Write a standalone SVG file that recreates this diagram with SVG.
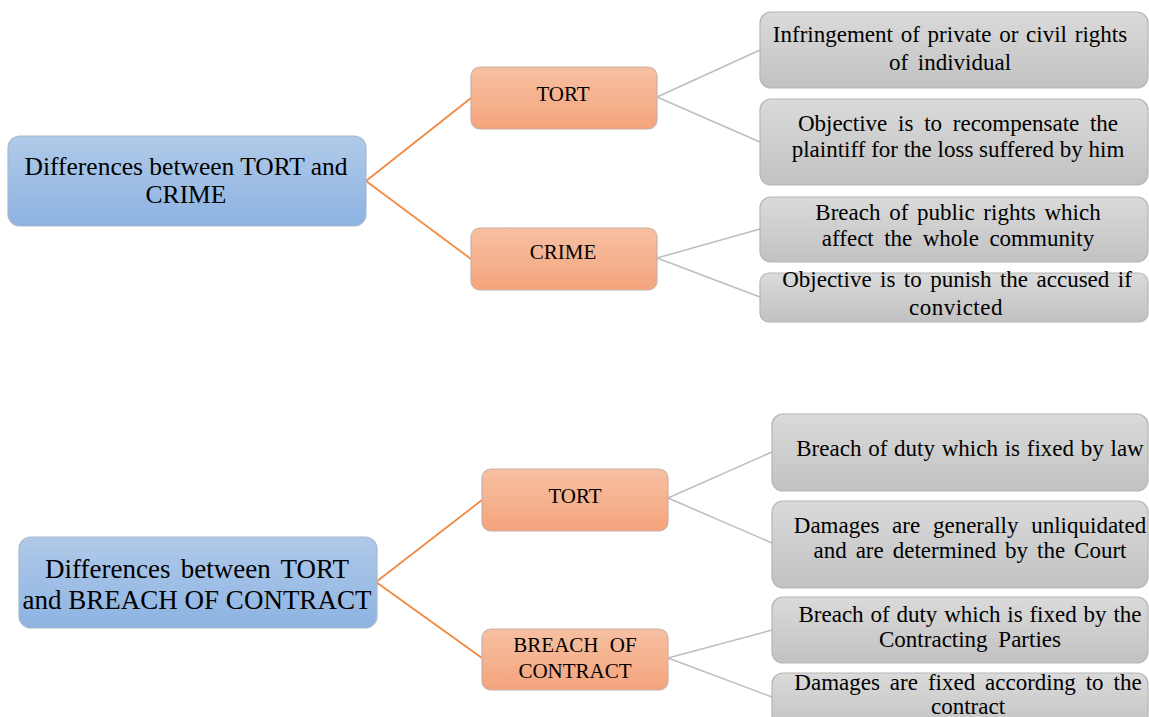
<svg xmlns="http://www.w3.org/2000/svg" width="1149" height="717" viewBox="0 0 1149 717">
<defs>
<linearGradient id="gBlue" x1="0" y1="0" x2="0" y2="1"><stop offset="0" stop-color="#B0CAE9"/><stop offset="1" stop-color="#8DB3E2"/></linearGradient>
<linearGradient id="gOrange" x1="0" y1="0" x2="0" y2="1"><stop offset="0" stop-color="#F7C0A2"/><stop offset="1" stop-color="#F4A47C"/></linearGradient>
<linearGradient id="gGray" x1="0" y1="0" x2="0" y2="1"><stop offset="0" stop-color="#DADADA"/><stop offset="1" stop-color="#C2C2C2"/></linearGradient>
</defs>
<style>
.blue{fill:url(#gBlue);stroke:#A9B8CC;stroke-width:1.2}
.orange{fill:url(#gOrange);stroke:#C9B0A4;stroke-width:1.2}
.gray{fill:url(#gGray);stroke:#B5B5B5;stroke-width:1.2}
text{font-family:"Liberation Serif","Times New Roman",serif;fill:#000;text-anchor:middle}
.tb{font-size:25.5px}
.tb2{font-size:27px}
.to{font-size:21px}
.tg{font-size:23px}
.co{stroke:#F08A42;stroke-width:1.8;fill:none}
.cg{stroke:#BDBDBD;stroke-width:1.5;fill:none}
</style>
<g id="connectors">
<path class="co" d="M366 181 L471 98 M366 181 L471 259"/>
<path class="cg" d="M657 97 L760 50 M657 97 L760 142 M657 258 L760 229 M657 258 L760 297"/>
<path class="co" d="M376 582 L482 500 M376 582 L482 658"/>
<path class="cg" d="M668 498 L772 452 M668 498 L772 543 M668 658 L772 630 M668 658 L772 697"/>
</g>
<g id="root1"><rect class="blue" x="8" y="136" width="358" height="90" rx="12"/>
<text class="tb" x="186" y="175">Differences between TORT and</text><text class="tb" x="186" y="203">CRIME</text></g>
<g id="tort1"><rect class="orange" x="471" y="67" width="186" height="62" rx="9"/><text class="to" x="563" y="101">TORT</text></g>
<g id="crime1"><rect class="orange" x="471" y="228" width="186" height="62" rx="9"/><text class="to" x="563" y="259">CRIME</text></g>
<g id="g1"><rect class="gray" x="760" y="12" width="388" height="76" rx="11"/>
<text class="tg" x="950" y="42" word-spacing="2">Infringement of private or civil rights</text><text class="tg" x="950" y="70" word-spacing="4">of individual</text></g>
<g id="g2"><rect class="gray" x="760" y="99" width="388" height="86" rx="11"/>
<text class="tg" x="958" y="131" word-spacing="5">Objective is to recompensate the</text><text class="tg" x="958" y="157">plaintiff for the loss suffered by him</text></g>
<g id="g3"><rect class="gray" x="760" y="197" width="388" height="65" rx="11"/>
<text class="tg" x="958" y="220" word-spacing="3">Breach of public rights which</text><text class="tg" x="958" y="246" word-spacing="4.7">affect the whole community</text></g>
<g id="g4"><rect class="gray" x="760" y="273" width="388" height="49" rx="9"/>
<text class="tg" x="957" y="287" word-spacing="2.7">Objective is to punish the accused if</text><text class="tg" x="956" y="315" letter-spacing="0.5">convicted</text></g>
<g id="root2"><rect class="blue" x="19" y="537" width="358" height="91" rx="12"/>
<text class="tb2" x="197" y="578" word-spacing="3.5">Differences between TORT</text><text class="tb2" x="197" y="609">and BREACH OF CONTRACT</text></g>
<g id="tort2"><rect class="orange" x="482" y="469" width="186" height="62" rx="9"/><text class="to" x="575" y="503">TORT</text></g>
<g id="breach2"><rect class="orange" x="482" y="629" width="186" height="61" rx="9"/>
<text class="to" x="575" y="652" word-spacing="6">BREACH OF</text><text class="to" x="575" y="678">CONTRACT</text></g>
<g id="g5"><rect class="gray" x="772" y="414" width="376" height="77" rx="11"/>
<text class="tg" x="970" y="456" word-spacing="1">Breach of duty which is fixed by law</text></g>
<g id="g6"><rect class="gray" x="772" y="501" width="376" height="87" rx="11"/>
<text class="tg" x="970" y="533" word-spacing="7">Damages are generally unliquidated</text><text class="tg" x="970" y="558" word-spacing="3.2">and are determined by the Court</text></g>
<g id="g7"><rect class="gray" x="772" y="597" width="376" height="66" rx="11"/>
<text class="tg" x="970" y="622" word-spacing="1.1">Breach of duty which is fixed by the</text><text class="tg" x="970" y="647" word-spacing="5">Contracting Parties</text></g>
<g id="g8"><rect class="gray" x="772" y="673" width="376" height="60" rx="11"/>
<text class="tg" x="968" y="690" word-spacing="4.2">Damages are fixed according to the</text><text class="tg" x="968" y="714">contract</text></g>
</svg>
